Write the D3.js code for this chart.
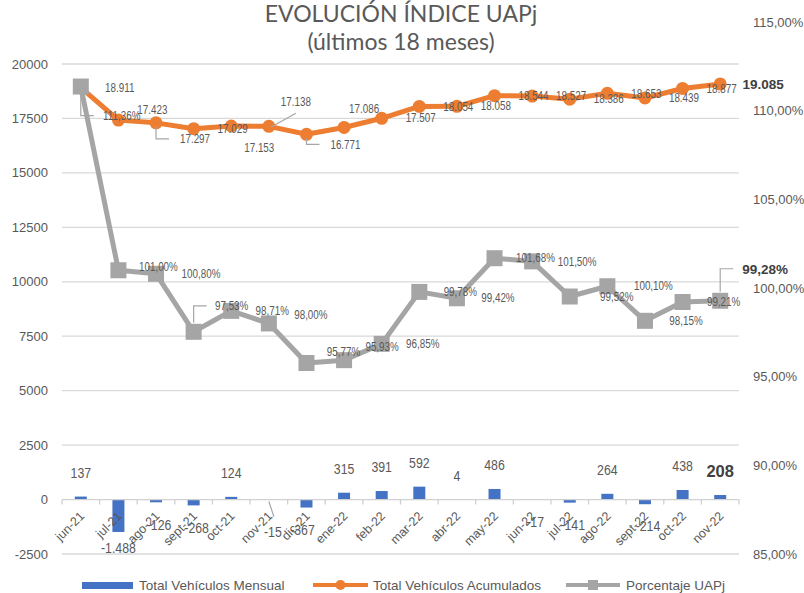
<!DOCTYPE html>
<html lang="es">
<head>
<meta charset="utf-8">
<title>Evolución Índice UAPj</title>
<script src="https://cdn.jsdelivr.net/npm/d3@7"></script>
<style>
  html, body { margin: 0; padding: 0; background: #fff; }
  svg { display: block; }
  .title { font-family: Lato, "Open Sans", sans-serif; font-size: 23px; fill: #595959; }
  .tick-label { font-family: "Liberation Sans", Arial, sans-serif; font-size: 13px; fill: #595959; }
  .x-label { font-family: "Liberation Sans", Arial, sans-serif; font-size: 12.5px; fill: #595959; }
  .dl { font-family: "Liberation Sans", Arial, sans-serif; font-size: 12px; fill: #595959; }
  .bar-label { font-family: "Liberation Sans", Arial, sans-serif; font-size: 15px; fill: #595959; }
  .bold-label { font-family: "Liberation Sans", Arial, sans-serif; font-weight: bold; font-size: 13.5px; fill: #404040; }
  .legend { font-family: "Liberation Sans", Arial, sans-serif; font-size: 13.5px; fill: #595959; }
</style>
</head>
<body>
<div id="chart"></div>
<script>
// ---- data ----
const months = ["jun-21", "jul-21", "ago-21", "sept-21", "oct-21", "nov-21", "dic-21", "ene-22", "feb-22",
                "mar-22", "abr-22", "may-22", "jun-22", "jul-22", "ago-22", "sept-22", "oct-22", "nov-22"];
const mensual = [137, -1488, -126, -268, 124, -15, -367, 315, 391, 592, 4, 486, -17, -141, 264, -214, 438, 208];
const acumulados = [18911, 17423, 17297, 17029, 17153, 17138, 16771, 17086, 17507, 18054, 18058, 18544,
                    18527, 18386, 18653, 18439, 18877, 19085];
const porcentaje = [1.1136, 1.0100, 1.0080, 0.9753, 0.9871, 0.9800, 0.9577, 0.9593, 0.9685, 0.9978, 0.9942,
                    1.0168, 1.0150, 0.9952, 1.0010, 0.9815, 0.9921, 0.9928];
const leftTicks = [-2500, 0, 2500, 5000, 7500, 10000, 12500, 15000, 17500, 20000];
const rightTicks = [0.85, 0.90, 0.95, 1.00, 1.05, 1.10, 1.15];
const seriesNames = ["Total Vehículos Mensual", "Total Vehículos Acumulados", "Porcentaje UAPj"];

// label nudges (Excel moved some labels by hand)
const accNudge = { "jul-21": [34, -10], "ago-21": [39, 16], "oct-21": [28, 22], "nov-21": [27, -25],
                   "dic-21": [39, 10], "ene-22": [20, -19], "nov-22": [43, 0] };
const pctNudge = { "jun-21": [41, 29], "jul-21": [40, -3], "ago-21": [45, 0], "sept-21": [38, -26],
                   "nov-21": [42, -9], "dic-21": [37, -11], "ene-22": [38, -13], "jun-22": [45, 0],
                   "jul-22": [47, 0], "ago-22": [46, 0], "nov-22": [45, -32] };
const barNudge = { "jul-21": [0, 16], "dic-21": [-4, 22], "nov-21": [4, 32] };

const W = 804, H = 593;
const NARROW = 0.82; // Excel's label font is narrower than Liberation Sans
const locale = d3.formatLocale({ decimal: ",", thousands: ".", grouping: [3], currency: ["", ""], minus: "-" });
const fmtNum = locale.format(",d");
const fmtPct = locale.format(".2%");
const fmtTick = locale.format("d");

const svg = d3.select("#chart").append("svg").attr("width", W).attr("height", H);

const x = d3.scaleBand().domain(months).range([62, 739]);
const yL = d3.scaleLinear().domain([-2500, 20000]).range([554, 64]);
const yR = d3.scaleLinear().domain([0.85, 1.15]).range([554, 22]);
const cx = d => x(d) + x.bandwidth() / 2;
const last = months.length - 1;

// title
svg.append("text").attr("class", "title").attr("x", 401).attr("y", 22).attr("text-anchor", "middle")
  .text("EVOLUCIÓN ÍNDICE UAPj");
svg.append("text").attr("class", "title").attr("x", 401).attr("y", 50).attr("text-anchor", "middle")
  .text("(últimos 18 meses)");

// gridlines + left axis labels
svg.append("g").selectAll("line").data(leftTicks.filter(t => t !== 0)).join("line")
  .attr("x1", 62).attr("x2", 739).attr("y1", d => yL(d)).attr("y2", d => yL(d))
  .attr("stroke", "#d9d9d9").attr("stroke-width", 1.3);
svg.append("g").selectAll("text").data(leftTicks).join("text")
  .attr("class", "tick-label").attr("x", 48).attr("y", d => yL(d)).attr("dy", "0.35em")
  .attr("text-anchor", "end").text(fmtTick);

// right axis labels
svg.append("g").selectAll("text").data(rightTicks).join("text")
  .attr("class", "tick-label").attr("x", 753).attr("y", d => yR(d)).attr("dy", "0.35em")
  .text(d => fmtPct(d));

// bars
svg.append("g").selectAll("rect").data(months).join("rect")
  .attr("x", d => cx(d) - 6).attr("width", 12)
  .attr("y", (d, i) => yL(Math.max(0, mensual[i])))
  .attr("height", (d, i) => Math.abs(yL(mensual[i]) - yL(0)))
  .attr("fill", "#4472c4");

// zero axis + ticks
svg.append("line").attr("x1", 62).attr("x2", 739).attr("y1", yL(0)).attr("y2", yL(0))
  .attr("stroke", "#d0d0d0").attr("stroke-width", 1.3);
svg.append("g").selectAll("line").data(months.concat(["end"])).join("line")
  .attr("x1", (d, i) => 62 + i * x.step()).attr("x2", (d, i) => 62 + i * x.step())
  .attr("y1", yL(0)).attr("y2", yL(0) + 5).attr("stroke", "#d0d0d0").attr("stroke-width", 1.3);

// x labels
svg.append("g").selectAll("text").data(months).join("text")
  .attr("class", "x-label").attr("text-anchor", "end").attr("dy", "0.71em")
  .attr("transform", d => `translate(${cx(d) - 2},${yL(0) + 11}) rotate(-45)`)
  .text(d => d);

// orange line
const lineAcc = d3.line().x((d, i) => cx(months[i])).y(d => yL(d));
svg.append("path").datum(acumulados).attr("d", lineAcc)
  .attr("fill", "none").attr("stroke", "#ed7d31").attr("stroke-width", 5).attr("stroke-linejoin", "round");
svg.append("g").selectAll("circle").data(acumulados).join("circle")
  .attr("cx", (d, i) => cx(months[i])).attr("cy", d => yL(d)).attr("r", 6.5).attr("fill", "#ed7d31");

// gray line
const linePct = d3.line().x((d, i) => cx(months[i])).y(d => yR(d));
svg.append("path").datum(porcentaje).attr("d", linePct)
  .attr("fill", "none").attr("stroke", "#a5a5a5").attr("stroke-width", 5).attr("stroke-linejoin", "round");
svg.append("g").selectAll("rect").data(porcentaje).join("rect")
  .attr("x", (d, i) => cx(months[i]) - 8).attr("y", d => yR(d) - 8)
  .attr("width", 16).attr("height", 16).attr("fill", "#a5a5a5");

// leader lines
const leader = d3.line();
const lg = svg.append("g").attr("fill", "none").attr("stroke", "#a6a6a6").attr("stroke-width", 1.2);
function elbow(px, py, ly) { return [[px, py], [px, ly], [px + 13, ly]]; }
["ago-21", "dic-21"].forEach(m => {
  const i = months.indexOf(m), px = cx(m), py = yL(acumulados[i]);
  lg.append("path").attr("d", leader(elbow(px, py + 4, py + accNudge[m][1])));
});
[["jun-21", 9], ["sept-21", -9], ["nov-22", -9]].forEach(([m, off]) => {
  const i = months.indexOf(m), px = cx(m), py = yR(porcentaje[i]);
  lg.append("path").attr("d", leader(elbow(px, py + off, py + pctNudge[m][1])));
});
{
  const m = "nov-21", i = months.indexOf(m), px = cx(m), py = yL(acumulados[i]);
  lg.append("path").attr("d", leader([[px + 2, py + 1], [px + 27, py - 13]]));
  const by = yL(0);
  lg.append("path").attr("d", leader([[px, by + 2], [px + 5, by + 17]]));
}

// helper: label placed at (lx, ly), narrowed unless bold
function place(sel, fx, fy, boldLast) {
  sel.attr("text-anchor", "middle").attr("dy", "0.35em")
    .attr("transform", (d, i) => `translate(${fx(d, i)},${fy(d, i)})` +
      (boldLast && i === last ? "" : ` scale(${NARROW},1)`));
}

// orange data labels
svg.append("g").selectAll("text").data(acumulados).join("text")
  .attr("class", (d, i) => i === last ? "bold-label" : "dl")
  .call(place,
    (d, i) => cx(months[i]) + (accNudge[months[i]] || [39, 0])[0],
    (d, i) => yL(d) + (accNudge[months[i]] || [39, 0])[1], true)
  .text(fmtNum);

// gray data labels
svg.append("g").selectAll("text").data(porcentaje).join("text")
  .attr("class", (d, i) => i === last ? "bold-label" : "dl")
  .call(place,
    (d, i) => cx(months[i]) + (pctNudge[months[i]] || [41, 0])[0],
    (d, i) => yR(d) + (pctNudge[months[i]] || [41, 0])[1], true)
  .text(fmtPct);

// bar labels
svg.append("g").selectAll("text").data(mensual).join("text")
  .attr("class", (d, i) => i === last ? "bold-label" : "bar-label")
  .style("font-size", (d, i) => i === last ? "16.5px" : null)
  .call(place,
    (d, i) => {
      const n = barNudge[months[i]];
      return cx(months[i]) + (n ? n[0] : (d < 0 ? 3 : 0));
    },
    (d, i) => {
      const n = barNudge[months[i]];
      if (d < 0) return yL(d) + (n ? n[1] : 22);
      return yL(d) - 24;
    }, true)
  .text(fmtNum);

// legend
const leg = svg.append("g");
leg.append("rect").attr("x", 82).attr("y", 582).attr("width", 51).attr("height", 7).attr("fill", "#4472c4");
leg.append("text").attr("class", "legend").attr("x", 139).attr("y", 585).attr("dy", "0.35em").text(seriesNames[0]);
leg.append("line").attr("x1", 313).attr("x2", 368).attr("y1", 585).attr("y2", 585)
  .attr("stroke", "#ed7d31").attr("stroke-width", 4);
leg.append("circle").attr("cx", 340.5).attr("cy", 585).attr("r", 5).attr("fill", "#ed7d31");
leg.append("text").attr("class", "legend").attr("x", 373).attr("y", 585).attr("dy", "0.35em").text(seriesNames[1]);
leg.append("line").attr("x1", 566).attr("x2", 620).attr("y1", 585).attr("y2", 585)
  .attr("stroke", "#a5a5a5").attr("stroke-width", 4);
leg.append("rect").attr("x", 588).attr("y", 580).attr("width", 10).attr("height", 10).attr("fill", "#a5a5a5");
leg.append("text").attr("class", "legend").attr("x", 626).attr("y", 585).attr("dy", "0.35em").text(seriesNames[2]);
</script>
</body>
</html>
